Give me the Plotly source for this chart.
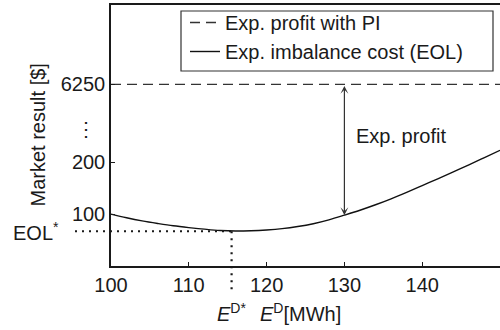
import plotly.graph_objects as go

# ---- data ----
energy_mwh = [100, 102, 104, 106, 108, 110, 112, 114, 116, 118, 120, 122, 124,
              126, 128, 130, 132, 134, 136, 138, 140, 142, 144, 146, 148, 150]
exp_imbalance_cost = [100, 93, 87, 82, 77.5, 74, 71, 68.5, 67.5, 68, 69.5, 72, 76,
                      81.5, 89, 98, 107.5, 118, 129.5, 142, 155, 168, 181.5, 195, 209, 223]
profit_with_pi_level = 350          # drawn at the "6250" tick position (broken axis)
eol_star = 67
ed_star = 115.5
arrow_x = 130
ytick_vals = [100, 200, 350]
ytick_text = ["100", "200", "6250"]
xtick_vals = [100, 110, 120, 130, 140]
x_range = [100, 150]
y_range = [0, 503]

FONT = "Liberation Sans, Arial, sans-serif"
FS = 20
INK = "#1a1a1a"

fig = go.Figure()
fig.add_trace(go.Scatter(
    x=[x_range[0], x_range[1]], y=[profit_with_pi_level, profit_with_pi_level],
    mode="lines", name="Exp. profit with PI",
    line=dict(color="#333333", width=1.3, dash="10px,6px")))
fig.add_trace(go.Scatter(
    x=energy_mwh, y=exp_imbalance_cost, mode="lines",
    name="Exp. imbalance cost (EOL)", line=dict(color="#111111", width=1.4, shape="spline")))

def xp(v):
    return (v - x_range[0]) / (x_range[1] - x_range[0])

def yp(v):
    return (v - y_range[0]) / (y_range[1] - y_range[0])

L, W, T, H = 111, 389, 5, 261

# dotted guide lines
fig.add_shape(type="line", xref="paper", yref="y", x0=(75 - L) / W, x1=xp(ed_star),
              y0=eol_star, y1=eol_star, line=dict(color=INK, width=2.2, dash="2px,5px"))
fig.add_shape(type="line", xref="x", yref="paper", x0=ed_star, x1=ed_star,
              y0=yp(eol_star), y1=-(293 - (T + H)) / H,
              line=dict(color=INK, width=2.2, dash="2px,5px"))

# legend box
fig.add_shape(type="rect", xref="paper", yref="paper",
              x0=(181 - L) / W, x1=(493 - L) / W,
              y0=(T + H - 71) / H, y1=(T + H - 11) / H,
              line=dict(color="#333333", width=1.2), fillcolor="rgba(0,0,0,0)")

# arrow
fig.add_annotation(x=arrow_x, y=exp_imbalance_cost[energy_mwh.index(arrow_x)],
                   ax=arrow_x, ay=profit_with_pi_level, xref="x", yref="y",
                   axref="x", ayref="y", text="", showarrow=True,
                   arrowhead=3, startarrowhead=3, arrowside="end+start",
                   arrowsize=1.1, arrowwidth=1.2, arrowcolor="#333333")
fig.add_annotation(x=131.2, y=250, xref="x", yref="y", text="Exp. profit",
                   showarrow=False, xanchor="left", yanchor="middle",
                   font=dict(family=FONT, size=FS, color=INK))
# broken-axis marker
fig.add_annotation(x=(98 - L) / W, y=265, xref="paper", yref="y", text="⋮",
                   showarrow=False, xanchor="right", yanchor="middle",
                   font=dict(family=FONT, size=FS, color=INK))
# EOL*
fig.add_annotation(x=(61 - L) / W, y=eol_star, xref="paper", yref="y",
                   text="EOL<sup>*</sup>", showarrow=False, xanchor="right",
                   yanchor="middle", font=dict(family=FONT, size=FS, color=INK))
# x labels
fig.add_annotation(x=ed_star, y=-(312 - (T + H)) / H, xref="x", yref="paper",
                   text="<i>E</i><sup>D*</sup>", showarrow=False, xanchor="center",
                   yanchor="middle", font=dict(family=FONT, size=FS, color=INK))
fig.add_annotation(x=(258 - L) / W, y=-(312 - (T + H)) / H, xref="paper", yref="paper",
                   text="<i>E</i><sup>D</sup>[MWh]", showarrow=False, xanchor="left",
                   yanchor="middle", font=dict(family=FONT, size=FS, color=INK))
# y title
fig.add_annotation(x=(37 - L) / W, y=0.5, xref="paper", yref="paper",
                   text="Market result [$]", textangle=-90, showarrow=False,
                   xanchor="center", yanchor="middle",
                   font=dict(family=FONT, size=FS, color=INK))

fig.update_layout(
    width=500, height=330,
    margin=dict(l=L, r=500 - L - W, t=T, b=330 - T - H, pad=0),
    paper_bgcolor="white", plot_bgcolor="white",
    font=dict(family=FONT, size=FS, color=INK),
    showlegend=True,
    legend=dict(x=(185 - L) / W, y=(T + H - 3) / H, xanchor="left", yanchor="top",
                bgcolor="rgba(0,0,0,0)", borderwidth=0,
                font=dict(family=FONT, size=FS, color=INK), tracegroupgap=0),
    xaxis=dict(range=x_range, tickvals=xtick_vals, ticks="inside", ticklen=4,
               tickcolor=INK, showline=True, linecolor=INK, linewidth=1.5,
               mirror=True, showgrid=False, zeroline=False, automargin=False,
               tickfont=dict(family=FONT, size=FS, color=INK)),
    yaxis=dict(range=y_range, tickvals=ytick_vals, ticktext=ytick_text,
               ticks="inside", ticklen=4, tickcolor=INK, showline=True,
               linecolor=INK, linewidth=1.5, showgrid=False, zeroline=False,
               automargin=False,
               tickfont=dict(family=FONT, size=FS, color=INK)),
)

fig.write_html("out.html", config={"displayModeBar": False},
               post_script="document.body.style.margin='0px';")
